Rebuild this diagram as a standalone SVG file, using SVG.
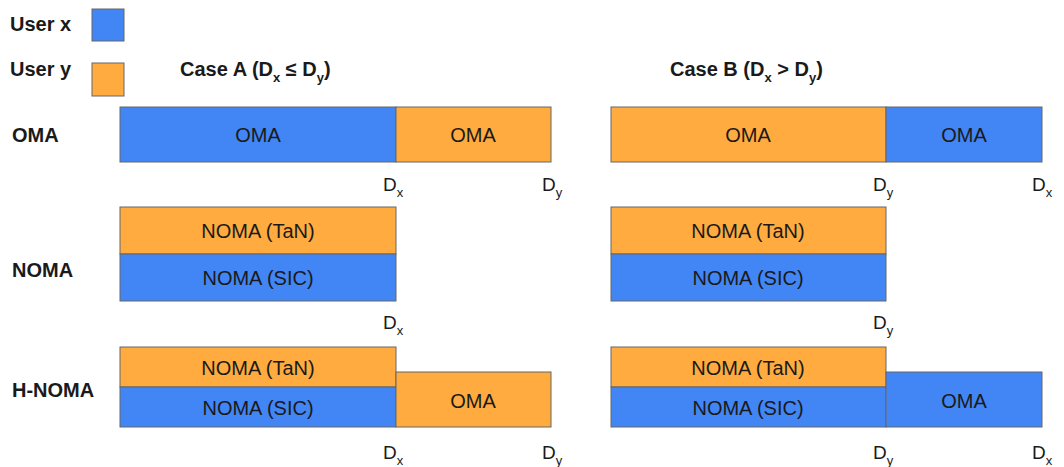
<svg xmlns="http://www.w3.org/2000/svg" width="1064" height="467" viewBox="0 0 1064 467">
  <style>
    .ux { fill: #4285f4; stroke: #666; stroke-width: 1; }
    .uy { fill: #ffab40; stroke: #666; stroke-width: 1; }
    .t { font-family: "Liberation Sans", Arial, sans-serif; font-size: 20px; fill: #1a1a1a; text-anchor: middle; }
    .b { font-family: "Liberation Sans", Arial, sans-serif; font-size: 20px; font-weight: bold; fill: #1a1a1a; }
    .d { font-family: "Liberation Sans", Arial, sans-serif; font-size: 19px; fill: #1a1a1a; }
    .s { font-size: 13px; }
  </style>
  <rect width="1064" height="467" fill="#fff"/>

  <!-- legend -->
  <g id="legend">
    <text class="b" x="10" y="31">User x</text>
    <rect class="ux" x="92" y="9" width="32" height="32"/>
    <text class="b" x="10" y="76">User y</text>
    <rect class="uy" x="92" y="63" width="32" height="33"/>
  </g>

  <!-- column headings -->
  <text class="b" x="180" y="76">Case A (D<tspan class="s" dy="6">x</tspan><tspan dy="-6"> ≤ D</tspan><tspan class="s" dy="6">y</tspan><tspan dy="-6">)</tspan></text>
  <text class="b" x="670" y="76">Case B (D<tspan class="s" dy="6">x</tspan><tspan dy="-6"> &gt; D</tspan><tspan class="s" dy="6">y</tspan><tspan dy="-6">)</tspan></text>

  <!-- row headings -->
  <text class="b" x="12" y="142">OMA</text>
  <text class="b" x="12" y="277">NOMA</text>
  <text class="b" x="12" y="397">H-NOMA</text>

  <!-- Case A, OMA -->
  <g id="a-oma-x"><rect class="ux" x="120" y="107" width="276" height="55"/><text class="t" x="258" y="142">OMA</text></g>
  <g id="a-oma-y"><rect class="uy" x="396" y="107" width="155" height="55"/><text class="t" x="473" y="142">OMA</text></g>

  <!-- Case B, OMA -->
  <g id="b-oma-y"><rect class="uy" x="611" y="107" width="275" height="55"/><text class="t" x="748" y="142">OMA</text></g>
  <g id="b-oma-x"><rect class="ux" x="886" y="107" width="156" height="55"/><text class="t" x="964" y="142">OMA</text></g>

  <!-- Case A, NOMA -->
  <g id="a-noma-tan"><rect class="uy" x="120" y="207" width="276" height="47"/><text class="t" x="258" y="238">NOMA (TaN)</text></g>
  <g id="a-noma-sic"><rect class="ux" x="120" y="254" width="276" height="47"/><text class="t" x="258" y="285">NOMA (SIC)</text></g>

  <!-- Case B, NOMA -->
  <g id="b-noma-tan"><rect class="uy" x="611" y="207" width="275" height="47"/><text class="t" x="748" y="238">NOMA (TaN)</text></g>
  <g id="b-noma-sic"><rect class="ux" x="611" y="254" width="275" height="47"/><text class="t" x="748" y="285">NOMA (SIC)</text></g>

  <!-- Case A, H-NOMA -->
  <g id="a-hnoma-tan"><rect class="uy" x="120" y="347" width="276" height="40"/><text class="t" x="258" y="375">NOMA (TaN)</text></g>
  <g id="a-hnoma-sic"><rect class="ux" x="120" y="387" width="276" height="40"/><text class="t" x="258" y="415">NOMA (SIC)</text></g>
  <g id="a-hnoma-oma"><rect class="uy" x="396" y="372" width="155" height="55"/><text class="t" x="473" y="408">OMA</text></g>

  <!-- Case B, H-NOMA -->
  <g id="b-hnoma-tan"><rect class="uy" x="611" y="347" width="275" height="40"/><text class="t" x="748" y="375">NOMA (TaN)</text></g>
  <g id="b-hnoma-sic"><rect class="ux" x="611" y="387" width="275" height="40"/><text class="t" x="748" y="415">NOMA (SIC)</text></g>
  <g id="b-hnoma-oma"><rect class="ux" x="886" y="372" width="156" height="55"/><text class="t" x="964" y="408">OMA</text></g>

  <!-- duration marks -->
  <g id="marks">
    <text class="d" x="383" y="191">D<tspan class="s" dy="6">x</tspan></text>
    <text class="d" x="542" y="191">D<tspan class="s" dy="6">y</tspan></text>
    <text class="d" x="873" y="191">D<tspan class="s" dy="6">y</tspan></text>
    <text class="d" x="1032" y="191">D<tspan class="s" dy="6">x</tspan></text>
    <text class="d" x="383" y="329">D<tspan class="s" dy="6">x</tspan></text>
    <text class="d" x="873" y="329">D<tspan class="s" dy="6">y</tspan></text>
    <text class="d" x="383" y="459">D<tspan class="s" dy="6">x</tspan></text>
    <text class="d" x="542" y="459">D<tspan class="s" dy="6">y</tspan></text>
    <text class="d" x="873" y="459">D<tspan class="s" dy="6">y</tspan></text>
    <text class="d" x="1032" y="459">D<tspan class="s" dy="6">x</tspan></text>
  </g>
</svg>
